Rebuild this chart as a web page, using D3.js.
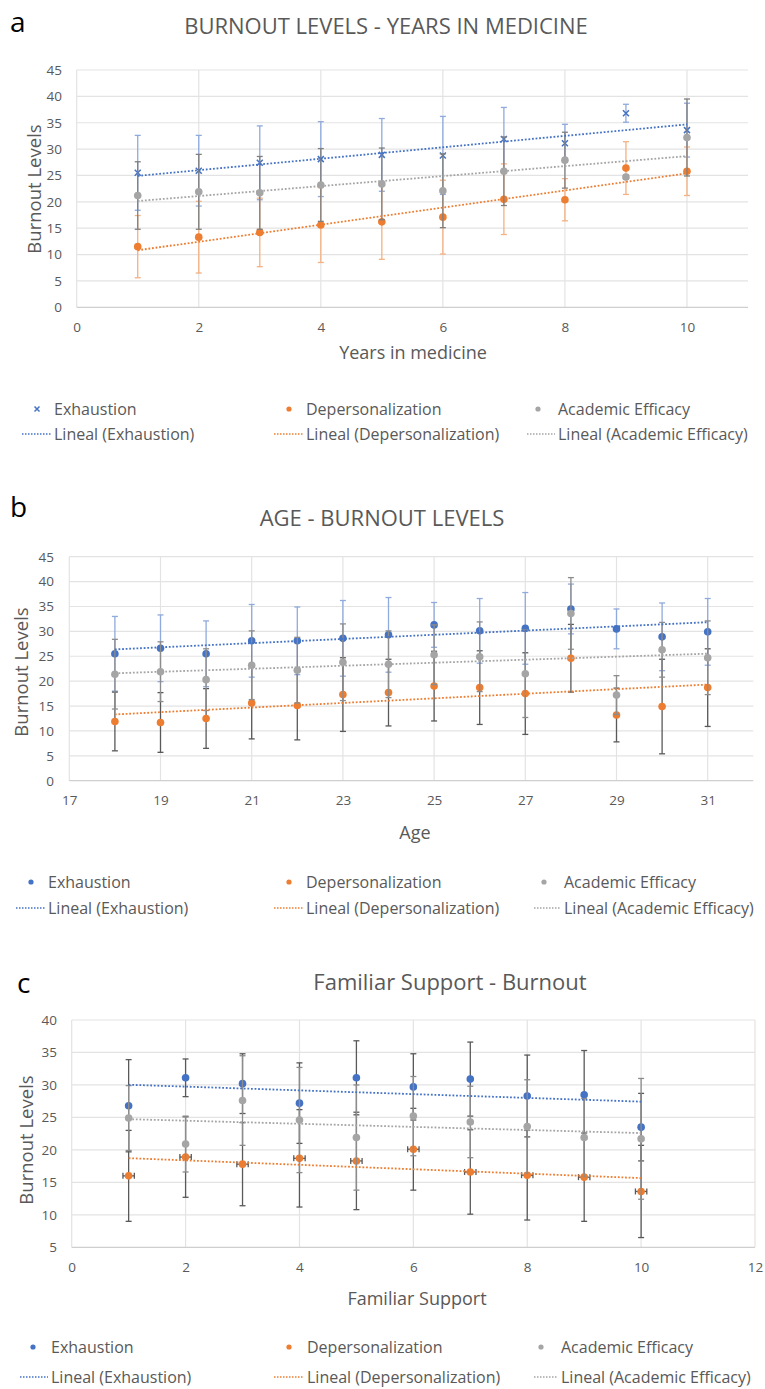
<!DOCTYPE html>
<html>
<head>
<meta charset="utf-8">
<script src="https://cdnjs.cloudflare.com/ajax/libs/d3/7.8.5/d3.min.js"></script>
<style>
body { margin: 0; background: #fff; }
text { font-family: "Open Sans", sans-serif; }
</style>
</head>
<body>
<div id="svgContainer"></div>
<script>
// ---- data ----
// a: years in medicine
var yearsX = [1, 2, 3, 4, 5, 6, 7, 8, 9, 10];
var yearsExh = [25.5, 25.9, 27.4, 28.1, 28.9, 28.8, 31.9, 31.1, 36.8, 33.6];
var yearsExhErr = [7.1, 6.7, 7.0, 7.1, 6.9, 7.4, 6.0, 3.6, 1.7, 5.1];
var yearsDep = [11.5, 13.3, 14.2, 15.6, 16.2, 17.1, 20.5, 20.4, 26.4, 25.8];
var yearsDepErr = [5.9, 6.8, 6.5, 7.1, 7.1, 7.0, 6.7, 4.0, 5.0, 4.6];
var yearsAE = [21.2, 21.9, 21.7, 23.2, 23.4, 22.1, 25.8, 27.9, 24.7, 32.2];
var yearsAEErr = [6.4, 7.1, 6.9, 6.9, 6.8, 7.0, 6.5, 5.3, 0.4, 7.3];
var yearsXTicks = [0, 2, 4, 6, 8, 10];

// b: age
var ageX = [18, 19, 20, 21, 22, 23, 24, 25, 26, 27, 28, 29, 30, 31];
var ageExh = [25.5, 26.6, 25.5, 28.1, 28.1, 28.6, 29.3, 31.3, 30.1, 30.6, 34.5, 30.5, 28.9, 29.9];
var ageExhErr = [7.5, 6.7, 6.6, 7.3, 6.8, 7.6, 7.5, 4.5, 6.5, 7.2, 5.0, 4.0, 6.8, 6.7];
var ageDep = [11.9, 11.7, 12.5, 15.6, 15.1, 17.3, 17.7, 19.0, 18.7, 17.5, 24.6, 13.2, 14.9, 18.7];
var ageDepErr = [5.9, 6.0, 6.0, 7.2, 6.9, 7.4, 6.7, 7.0, 7.4, 8.2, 6.8, 5.4, 9.5, 7.8];
var ageAE = [21.4, 21.9, 20.3, 23.2, 22.2, 23.8, 23.4, 25.3, 24.9, 21.5, 33.6, 17.2, 26.3, 24.7];
var ageAEErr = [7.0, 6.0, 6.2, 6.9, 6.6, 7.7, 6.7, 6.0, 7.0, 8.8, 7.2, 3.9, 5.5, 7.4];
var ageXTicks = [17, 19, 21, 23, 25, 27, 29, 31];

// c: familiar support
var supX = [1, 2, 3, 4, 5, 6, 7, 8, 9, 10];
var supExh = [26.8, 31.1, 30.2, 27.2, 31.1, 29.7, 30.9, 28.3, 28.5, 23.5];
var supExhErr = [7.1, 2.9, 4.6, 6.2, 5.7, 5.1, 5.7, 6.3, 6.8, 5.2];
var supDep = [16.0, 18.9, 17.8, 18.7, 18.3, 20.1, 16.6, 16.1, 15.8, 13.6];
var supDepErr = [7.0, 6.2, 6.4, 7.5, 7.5, 6.3, 6.5, 6.9, 6.8, 7.1];
var supDepXErr = [0.1, 0.1, 0.1, 0.1, 0.1, 0.1, 0.1, 0.1, 0.1, 0.1];
var supAE = [24.9, 20.9, 27.6, 24.6, 21.9, 25.2, 24.3, 23.6, 21.9, 21.7];
var supAEErr = [5.0, 4.3, 6.9, 8.1, 8.1, 6.1, 5.5, 7.2, 6.0, 9.3];
var supXTicks = [0, 2, 4, 6, 8, 10, 12];

var burnoutYTicks = [0, 5, 10, 15, 20, 25, 30, 35, 40, 45];
var supYTicks = [5, 10, 15, 20, 25, 30, 35, 40];

var seriesNames = ["Exhaustion", "Depersonalization", "Academic Efficacy"];

// colours
var blue = "#4472c4", orange = "#ed7d31", gray = "#a5a5a5";
var textColor = "#595959";

var width = 765, height = 1389;

var svg = d3.select("#svgContainer")
    .append("svg")
    .attr("width", width)
    .attr("height", height);

svg.append("rect").attr("width", width).attr("height", height).style("fill", "#fff");

// panel settings (layout only)
var panels = [
    {
        letter: "a", letterX: 10, letterY: 32,
        title: "BURNOUT LEVELS - YEARS IN MEDICINE", titleX: 386, titleY: 34,
        xTitle: "Years in medicine", xTitleX: 413, xTitleY: 359,
        left: 76.7, right: 748, top: 70, bottom: 307.3,
        xDomain: [0, 11], yDomain: [0, 45], xTicks: yearsXTicks, yTicks: burnoutYTicks,
        yLabelRight: 62, yTitleX: 33, yTitleY: 189,
        legendY: [409, 434], legendMarkX: [37, 289, 538], legendTextX: [54, 306, 558], legendLineX: [22, 274, 527],
        x: yearsX,
        series: [
            {values: yearsExh, err: yearsExhErr, color: blue, barColor: "#8faadc", marker: "cross"},
            {values: yearsDep, err: yearsDepErr, color: orange, barColor: "#f4b183", marker: "circle"},
            {values: yearsAE, err: yearsAEErr, color: gray, barColor: "#7f7f7f", marker: "circle"}
        ]
    },
    {
        letter: "b", letterX: 10, letterY: 517,
        title: "AGE - BURNOUT LEVELS", titleX: 382, titleY: 526,
        xTitle: "Age", xTitleX: 415, xTitleY: 839,
        left: 69.3, right: 753.3, top: 556.7, bottom: 780.7,
        xDomain: [17, 32], yDomain: [0, 45], xTicks: ageXTicks, yTicks: burnoutYTicks,
        yLabelRight: 54, yTitleX: 20, yTitleY: 672,
        legendY: [882, 908], legendMarkX: [31, 289, 544], legendTextX: [48, 306, 564], legendLineX: [16, 274, 534],
        x: ageX,
        series: [
            {values: ageExh, err: ageExhErr, color: blue, barColor: "#8faadc", marker: "circle"},
            {values: ageDep, err: ageDepErr, color: orange, barColor: "#595959", marker: "circle"},
            {values: ageAE, err: ageAEErr, color: gray, barColor: "#8c8c8c", marker: "circle"}
        ]
    },
    {
        letter: "c", letterX: 17, letterY: 993,
        title: "Familiar Support - Burnout", titleX: 450, titleY: 990,
        xTitle: "Familiar Support", xTitleX: 417, xTitleY: 1305,
        left: 71.7, right: 755, top: 1020, bottom: 1247.3,
        xDomain: [0, 12], yDomain: [5, 40], xTicks: supXTicks, yTicks: supYTicks,
        yLabelRight: 57, yTitleX: 25, yTitleY: 1140,
        legendY: [1347, 1377], legendMarkX: [33, 289, 541], legendTextX: [51, 307, 561], legendLineX: [20, 274, 534],
        x: supX,
        series: [
            {values: supExh, err: supExhErr, color: blue, barColor: "#595959", marker: "circle"},
            {values: supDep, err: supDepErr, xErr: supDepXErr, color: orange, barColor: "#595959", marker: "circle"},
            {values: supAE, err: supAEErr, color: gray, barColor: "#8c8c8c", marker: "circle"}
        ]
    }
];

// least squares line, like excel's linear trendline
function linearFit(xs, ys) {
    var mx = d3.mean(xs), my = d3.mean(ys);
    var sxy = 0, sxx = 0;
    for (var i = 0; i < xs.length; i++) {
        sxy += (xs[i] - mx) * (ys[i] - my);
        sxx += (xs[i] - mx) * (xs[i] - mx);
    }
    var slope = sxy / sxx;
    return function(v) { return my + slope * (v - mx); };
}

function drawMarker(sel, type, r, color) {
    if (type === "cross") {
        sel.append("path")
            .attr("d", "M" + (-r) + "," + (-r) + "L" + r + "," + r + "M" + (-r) + "," + r + "L" + r + "," + (-r))
            .style("stroke", color)
            .style("stroke-width", 1.5)
            .style("fill", "none");
    } else {
        sel.append("circle")
            .attr("r", r)
            .style("fill", color);
    }
}

function drawPanel(p) {
    var g = svg.append("g");

    var x = d3.scaleLinear().domain(p.xDomain).range([p.left, p.right]);
    var y = d3.scaleLinear().domain(p.yDomain).range([p.bottom, p.top]);

    // gridlines
    g.append("g").selectAll("line")
        .data(p.yTicks.slice(1))
        .join("line")
        .attr("x1", p.left).attr("x2", p.right)
        .attr("y1", function(d) { return y(d); })
        .attr("y2", function(d) { return y(d); })
        .style("stroke", "#e3e3e3")
        .style("stroke-width", 1.2);
    g.append("g").selectAll("line")
        .data(p.xTicks)
        .join("line")
        .attr("x1", function(d) { return x(d); })
        .attr("x2", function(d) { return x(d); })
        .attr("y1", p.top).attr("y2", p.bottom)
        .style("stroke", "#e3e3e3")
        .style("stroke-width", 1.2);
    g.append("line")
        .attr("x1", p.left).attr("x2", p.right)
        .attr("y1", p.bottom).attr("y2", p.bottom)
        .style("stroke", "#cfcfcf")
        .style("stroke-width", 1.2);

    // axes (labels only)
    var yAxis = g.append("g")
        .attr("transform", "translate(" + p.yLabelRight + ",0)")
        .call(d3.axisLeft(y).tickValues(p.yTicks).tickSize(0).tickPadding(0));
    var xAxis = g.append("g")
        .attr("transform", "translate(0," + p.bottom + ")")
        .call(d3.axisBottom(x).tickValues(p.xTicks).tickSize(0).tickPadding(15));
    [yAxis, xAxis].forEach(function(a) {
        a.select(".domain").remove();
        a.selectAll("text")
            .style("font-family", "'Open Sans', sans-serif")
            .style("font-size", "13.5px")
            .style("fill", textColor);
    });

    // error bars and markers
    p.series.forEach(function(s) {
        var pts = p.x.map(function(xv, i) {
            return {x: xv, y: s.values[i], e: s.err[i], xe: s.xErr ? s.xErr[i] : 0};
        });
        var bars = g.append("g")
            .style("stroke", s.barColor)
            .style("stroke-width", 1.3);
        pts.forEach(function(d) {
            var cx = x(d.x);
            bars.append("line")
                .attr("x1", cx).attr("x2", cx)
                .attr("y1", y(d.y - d.e)).attr("y2", y(d.y + d.e));
            [d.y - d.e, d.y + d.e].forEach(function(v) {
                bars.append("line")
                    .attr("x1", cx - 3).attr("x2", cx + 3)
                    .attr("y1", y(v)).attr("y2", y(v));
            });
            if (d.xe) {
                var cy = y(d.y);
                bars.append("line")
                    .attr("x1", x(d.x - d.xe)).attr("x2", x(d.x + d.xe))
                    .attr("y1", cy).attr("y2", cy);
                [d.x - d.xe, d.x + d.xe].forEach(function(v) {
                    bars.append("line")
                        .attr("x1", x(v)).attr("x2", x(v))
                        .attr("y1", cy - 3).attr("y2", cy + 3);
                });
            }
        });
        g.append("g").selectAll("g")
            .data(pts)
            .join("g")
            .attr("transform", function(d) { return "translate(" + x(d.x) + "," + y(d.y) + ")"; })
            .each(function() { drawMarker(d3.select(this), s.marker, s.marker === "cross" ? 3 : 3.8, s.color); });
    });

    // linear trendlines
    p.series.forEach(function(s) {
        var f = linearFit(p.x, s.values);
        var x0 = d3.min(p.x), x1 = d3.max(p.x);
        g.append("line")
            .attr("x1", x(x0)).attr("y1", y(f(x0)))
            .attr("x2", x(x1)).attr("y2", y(f(x1)))
            .style("stroke", s.color)
            .style("stroke-width", 1.8)
            .style("stroke-dasharray", "1.8,1.8");
    });

    // titles
    g.append("text")
        .attr("x", p.letterX).attr("y", p.letterY)
        .style("font-size", "28px")
        .style("fill", "#000")
        .text(p.letter);
    g.append("text")
        .attr("x", p.titleX).attr("y", p.titleY)
        .attr("text-anchor", "middle")
        .style("font-size", "22px")
        .style("fill", textColor)
        .text(p.title);
    g.append("text")
        .attr("x", p.xTitleX).attr("y", p.xTitleY)
        .attr("text-anchor", "middle")
        .style("font-size", "18px")
        .style("fill", textColor)
        .text(p.xTitle);
    g.append("text")
        .attr("transform", "translate(" + p.yTitleX + "," + p.yTitleY + ") rotate(-90)")
        .attr("text-anchor", "middle")
        .attr("dominant-baseline", "central")
        .style("font-size", "18.5px")
        .style("fill", textColor)
        .text("Burnout Levels");

    // legend
    p.series.forEach(function(s, i) {
        var m = g.append("g")
            .attr("transform", "translate(" + p.legendMarkX[i] + "," + p.legendY[0] + ")");
        drawMarker(m, s.marker, s.marker === "cross" ? 2.5 : 2.6, s.color);
        g.append("text")
            .attr("x", p.legendTextX[i]).attr("y", p.legendY[0])
            .attr("dominant-baseline", "central")
            .style("font-size", "16px")
            .style("fill", textColor)
            .text(seriesNames[i]);
        g.append("line")
            .attr("x1", p.legendLineX[i]).attr("x2", p.legendTextX[i] - 3)
            .attr("y1", p.legendY[1]).attr("y2", p.legendY[1])
            .style("stroke", s.color)
            .style("stroke-width", 1.5)
            .style("stroke-dasharray", "1.5,1.5");
        g.append("text")
            .attr("x", p.legendTextX[i]).attr("y", p.legendY[1])
            .attr("dominant-baseline", "central")
            .style("font-size", "16px")
            .style("fill", textColor)
            .text("Lineal (" + seriesNames[i] + ")");
    });
}

panels.forEach(drawPanel);
</script>
</body>
</html>
